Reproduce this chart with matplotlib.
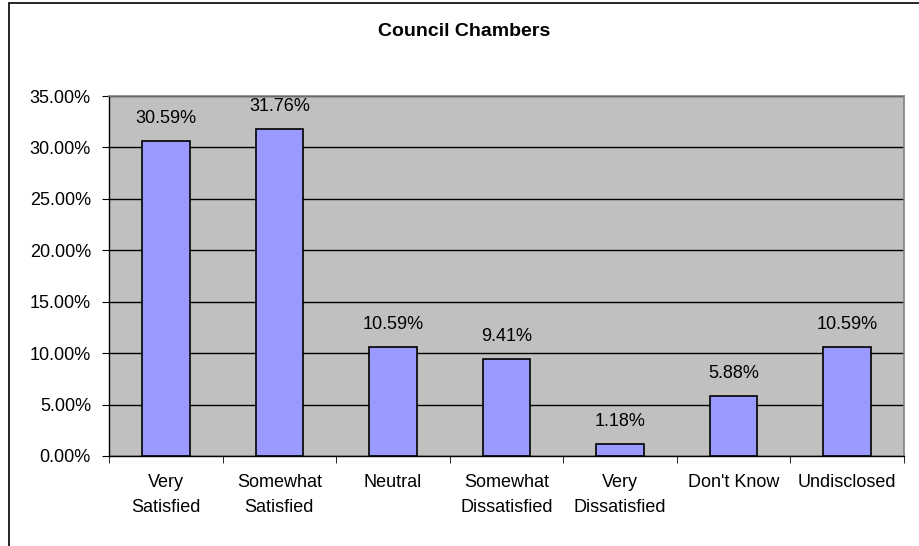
import matplotlib.pyplot as plt
import matplotlib.patches as patches
import numpy as np

categories = ["Very\nSatisfied", "Somewhat\nSatisfied", "Neutral", "Somewhat\nDissatisfied",
              "Very\nDissatisfied", "Don't Know", "Undisclosed"]
values = [30.59, 31.76, 10.59, 9.41, 1.18, 5.88, 10.59]
yticks = [0, 5, 10, 15, 20, 25, 30, 35]

plt.rcParams['font.family'] = ['Liberation Sans', 'DejaVu Sans']

W, H = 919, 546
fig = plt.figure(figsize=(W / 100, H / 100), dpi=100)
fig.patch.set_facecolor("white")

# outer chart frame (right and bottom run off the image)
fig.patches.append(patches.Rectangle((9 / W, -0.1), 1.2, (H - 3) / H + 0.1,
                                     transform=fig.transFigure, fill=False,
                                     edgecolor="black", lw=1.2))

ax = fig.add_axes([109 / W, 1 - 456 / H, (904 - 109) / W, (456 - 96) / H])
ax.set_facecolor("#C0C0C0")

x = np.arange(len(categories))
ax.set_axisbelow(True)
ax.yaxis.grid(True, color="black", lw=1)
bars = ax.bar(x, values, width=0.42, color="#9999FF", edgecolor="black", lw=1.2)
ax.bar_label(bars, labels=[f"{v:.2f}%" for v in values], padding=10, fontsize=13)

ax.set_xlim(-0.5, len(categories) - 0.5)
ax.set_ylim(0, 35)
ax.set_yticks(yticks)
ax.set_yticklabels([f"{v:.2f}%" for v in yticks], fontsize=13)
ax.set_xticks(x)
ax.set_xticklabels(categories, fontsize=13, linespacing=1.6)
ax.set_xticks(np.arange(-0.5, len(categories), 1), minor=True)
ax.tick_params(axis="x", which="major", length=0, pad=13)
ax.tick_params(axis="x", which="minor", length=5, direction="out", color="black")
ax.tick_params(axis="y", length=5, direction="out", color="black", pad=8)

for side in ["top", "right"]:
    ax.spines[side].set_color("#808080")
    ax.spines[side].set_linewidth(1.2)
for side in ["left", "bottom"]:
    ax.spines[side].set_color("black")
    ax.spines[side].set_linewidth(1)

fig.text(464 / W, 1 - 32 / H, "Council Chambers", ha="center", va="center",
         fontsize=14, fontweight="bold")

plt.savefig("out.png", dpi=100)
